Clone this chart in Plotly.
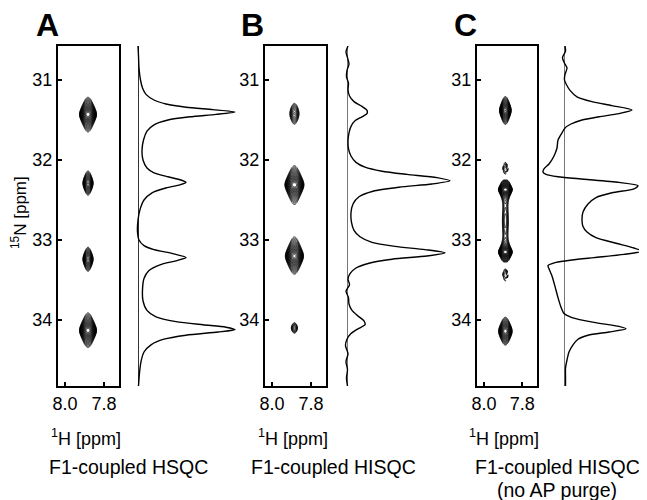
import numpy as np
import plotly.graph_objects as go

# page body has an 8px margin: the figure is shifted, so draw it 8px smaller and offset
OFF = 8
W, H = 647 - OFF, 500 - OFF
FONT = "Liberation Sans, Arial, sans-serif"

# ---------------- data ----------------
N_RANGE = [34.825, 30.575]      # 15N ppm (reversed)
H_RANGE = [8.036, 7.723]        # 1H ppm (reversed)
N_TICKS = [31, 32, 33, 34]
H_TICKS = [8.0, 7.8]
H_TICKTEXT = ["8.0", "7.8"]

# 2D cross peaks: 1H centre, 15N centre, relative height, 15N width, 1H width
A_PK_H = [7.882, 7.882, 7.882, 7.882]
A_PK_N = [31.43, 32.29, 33.24, 34.13]
A_PK_HT = [1.0, 0.5, 0.5, 1.0]
A_PK_WN = [0.07, 0.07, 0.07, 0.07]
A_PK_WH = [0.0205, 0.0145, 0.0145, 0.0205]

B_PK_H = [7.885, 7.885, 7.885, 7.885]
B_PK_N = [31.42, 32.31, 33.20, 34.10]
B_PK_HT = [0.25, 1.0, 0.95, 0.2]
B_PK_WN = [0.098, 0.075, 0.075, 0.06]
B_PK_WH = [0.017, 0.0228, 0.022, 0.013]

C_PK_H = [7.888, 7.888, 7.888, 7.888, 7.888, 7.888, 7.888]
C_PK_N = [31.38, 32.11, 32.37, 32.76, 33.15, 33.43, 34.14]
C_PK_HT = [0.8, -0.4, 1.0, 0.17, 1.0, -0.4, 0.7]
C_PK_WN = [0.064, 0.06, 0.045, 0.25, 0.045, 0.06, 0.069]
C_PK_WH = [0.015, 0.0095, 0.0168, 0.013, 0.0168, 0.0095, 0.018]

# 1D 15N traces (ppm, relative intensity)
A_TR_N = [30.575, 30.70, 30.85, 31.00, 31.10, 31.18, 31.25, 31.30, 31.34, 31.37, 31.40, 31.43,
          31.46, 31.50, 31.56, 31.64, 31.75, 31.88, 32.00, 32.10, 32.16, 32.21, 32.25, 32.28,
          32.31, 32.35, 32.41, 32.50, 32.62, 32.75, 32.90, 33.00, 33.07, 33.12, 33.17, 33.22,
          33.26, 33.31, 33.38, 33.48, 33.62, 33.76, 33.88, 33.96, 34.02, 34.06, 34.09, 34.12,
          34.15, 34.19, 34.24, 34.31, 34.40, 34.52, 34.66, 34.825]
A_TR_I = [0, 0.5, 1, 2.5, 4.5, 8, 16, 28, 48, 75, 97, 78,
          52, 30, 16, 9, 5.5, 4, 5, 9, 16, 30, 43, 48,
          42, 28, 14, 6, 2, 0, -0.5, 1, 6, 16, 35, 48,
          38, 22, 11, 6, 4.5, 5, 9, 18, 38, 65, 88, 97,
          80, 48, 26, 13, 6, 3, 1.5, 0.5]

B_TR_N = [30.575, 30.65, 30.72, 30.80, 30.88, 30.96, 31.04, 31.12, 31.20, 31.27, 31.33, 31.38,
          31.42, 31.46, 31.51, 31.58, 31.66, 31.76, 31.86, 31.95, 32.03, 32.09, 32.14, 32.18,
          32.22, 32.26, 32.30, 32.34, 32.39, 32.46, 32.55, 32.66, 32.78, 32.88, 32.96, 33.03,
          33.08, 33.12, 33.16, 33.20, 33.24, 33.29, 33.35, 33.42, 33.49, 33.56, 33.64, 33.72,
          33.80, 33.88, 33.95, 34.01, 34.06, 34.11, 34.17, 34.24, 34.32, 34.42, 34.52, 34.62,
          34.72, 34.825]
B_TR_I = [1, -1, 0.5, 2, 0, -0.5, 1.5, 1, 2.5, 7, 15, 20,
          20, 15, 8, 4, 2, 1, 1.5, 4, 9, 18, 35, 60,
          90, 103, 85, 52, 26, 12, 6, 4, 4.5, 7, 13, 25,
          48, 78, 98, 80, 45, 22, 9, 3, 1, 2.5, -1, 1.5,
          2, 5, 11, 17, 18, 11, 4, 0, -1.5, 1, -1, 0.5,
          -0.5, 0.5]

C_TR_N = [30.575, 30.64, 30.72, 30.79, 30.85, 30.93, 31.00, 31.06, 31.13, 31.21, 31.27, 31.32,
          31.375, 31.42, 31.46, 31.50, 31.55, 31.60, 31.66, 31.75, 31.85, 31.95, 32.05, 32.11,
          32.15, 32.18, 32.21, 32.24, 32.28, 32.32, 32.36, 32.41, 32.47, 32.55, 32.65, 32.75,
          32.83, 32.90, 32.97, 33.04, 33.10, 33.14, 33.18, 33.22, 33.25, 33.28, 33.32, 33.36,
          33.45, 33.58, 33.72, 33.84, 33.92, 33.97, 34.03, 34.08, 34.11, 34.15, 34.19, 34.24,
          34.31, 34.40, 34.50, 34.60, 34.70, 34.825]
C_TR_I = [1, 1.5, -1.5, 0.5, 3, 1, 0.5, 2.5, 6, 13, 28, 48,
          68, 55, 35, 18, 7, 1, -2, -6, -7, -10, -15, -20,
          -21, -18, -6, 20, 55, 74, 70, 48, 32, 24, 19, 18,
          19, 23, 32, 52, 70, 78, 60, 30, 8, -8, -16, -15,
          -12, -9, -6, -3, 0, 8, 30, 55, 62, 45, 24, 14,
          9, 5, 3, 1.5, 1.5, 1.5]

CAPTIONS_A = ["F1-coupled HSQC"]
CAPTIONS_B = ["F1-coupled HISQC"]
CAPTIONS_C = ["F1-coupled HISQC", "(no AP purge)"]

PANELS = [
    dict(letter="A", box=(58, 119), tr=(128, 240), tr_range=[-10, 102], base="#333333",
         pk=(A_PK_H, A_PK_N, A_PK_HT, A_PK_WN, A_PK_WH), trace=(A_TR_N, A_TR_I),
         caption=CAPTIONS_A, cap_x=128, let_x=34),
    dict(letter="B", box=(265, 326), tr=(337, 457), tr_range=[-10, 110], base="#777777",
         pk=(B_PK_H, B_PK_N, B_PK_HT, B_PK_WN, B_PK_WH), trace=(B_TR_N, B_TR_I),
         caption=CAPTIONS_B, cap_x=333, let_x=239),
    dict(letter="C", box=(477, 537), tr=(539, 647), tr_range=[-25, 83], base="#777777",
         pk=(C_PK_H, C_PK_N, C_PK_HT, C_PK_WN, C_PK_WH), trace=(C_TR_N, C_TR_I),
         caption=CAPTIONS_C, cap_x=557, let_x=452),
]

TOP, BOT = 46, 386


def fx(px):
    return (px - OFF) / W


def fy(py):
    return 1 - (py - OFF) / H


gx = np.linspace(H_RANGE[1], H_RANGE[0], 160)
gy = np.linspace(N_RANGE[1], N_RANGE[0], 700)
GX, GY = np.meshgrid(gx, gy)

fig = go.Figure()
annotations = []
layout = dict(width=W, height=H, margin=dict(l=0, r=0, t=0, b=0, autoexpand=False),
              paper_bgcolor="white", plot_bgcolor="white", showlegend=False,
              font=dict(family=FONT, color="black"))

for i, p in enumerate(PANELS):
    bx = 2 * i + 1
    tx = 2 * i + 2
    hs, ns, hts, wns, whs = p["pk"]
    field = np.zeros_like(GX)
    for h0, n0, ht, wn, wh in zip(hs, ns, hts, wns, whs):
        field += ht * np.exp(-((GX - h0) ** 2) / (2 * wh ** 2)) / (1 + ((GY - n0) / wn) ** 2)
    zpos = np.log10(np.clip(field, 1e-6, None))
    zneg = np.log10(np.clip(-field, 1e-6, None))
    xa = "x" if bx == 1 else f"x{bx}"
    ya = "y" if bx == 1 else f"y{bx}"
    fig.add_trace(go.Contour(x=gx, y=gy, z=zpos, xaxis=xa, yaxis=ya, showscale=False,
                             contours=dict(coloring="lines", start=-1, end=-0.01, size=0.05),
                             colorscale=[[0, "black"], [1, "black"]],
                             line=dict(width=0.8), hoverinfo="skip"))
    if np.min(field) < -0.1:
        fig.add_trace(go.Contour(x=gx, y=gy, z=zneg, xaxis=xa, yaxis=ya, showscale=False,
                                 contours=dict(coloring="lines", start=-1, end=-0.42, size=0.06),
                                 colorscale=[[0, "black"], [1, "black"]],
                                 line=dict(width=0.8, dash="dot"), hoverinfo="skip"))
    trN, trI = p["trace"]
    fig.add_trace(go.Scatter(x=trI, y=trN, xaxis=f"x{tx}", yaxis=f"y{tx}", mode="lines",
                             line=dict(color="black", width=1.4, shape="spline", smoothing=0.7),
                             hoverinfo="skip"))

    key_bx = "xaxis" if bx == 1 else f"xaxis{bx}"
    key_by = "yaxis" if bx == 1 else f"yaxis{bx}"
    layout[key_bx] = dict(domain=[fx(p["box"][0]), fx(p["box"][1])], range=H_RANGE,
                          anchor=ya, showline=True, mirror=True, linecolor="black", linewidth=2.2,
                          ticks="inside", ticklen=4, tickwidth=2, tickcolor="black",
                          tickvals=H_TICKS, ticktext=H_TICKTEXT, showgrid=False, zeroline=False,
                          tickfont=dict(size=18, family=FONT, color="black"))
    layout[key_by] = dict(domain=[fy(BOT), fy(TOP)], range=N_RANGE, anchor=xa,
                          showline=True, mirror=True, linecolor="black", linewidth=2.2,
                          ticks="inside", ticklen=4, tickwidth=2, tickcolor="black",
                          tickvals=N_TICKS, showgrid=False, zeroline=False,
                          tickfont=dict(size=18, family=FONT, color="black"))
    layout[f"xaxis{tx}"] = dict(domain=[fx(p["tr"][0]), fx(p["tr"][1])], range=p["tr_range"],
                                anchor=f"y{tx}", visible=True, showline=False, showticklabels=False,
                                ticks="", showgrid=False, zeroline=True, zerolinecolor=p["base"],
                                zerolinewidth=1)
    layout[f"yaxis{tx}"] = dict(domain=[fy(BOT), fy(TOP)], range=N_RANGE, anchor=f"x{tx}",
                                visible=False)

    annotations.append(dict(text=f"<b>{p['letter']}</b>", x=fx(p["let_x"]), y=fy(25),
                            xref="paper", yref="paper", xanchor="left", yanchor="middle",
                            showarrow=False, font=dict(size=32, family=FONT, color="black")))
    bc = (p["box"][0] + p["box"][1]) / 2
    annotations.append(dict(text="<sup>1</sup>H [ppm]", x=fx(bc - 3), y=fy(437),
                            xref="paper", yref="paper", xanchor="center", yanchor="middle",
                            showarrow=False, font=dict(size=18, family=FONT, color="black")))
    for k, line in enumerate(p["caption"]):
        annotations.append(dict(text=line, x=fx(p["cap_x"]), y=fy(467 + 23 * k),
                                xref="paper", yref="paper", xanchor="center", yanchor="middle",
                                showarrow=False, font=dict(size=19.5, family=FONT, color="black")))

annotations.append(dict(text="<sup>15</sup>N [ppm]", x=fx(19), y=fy(213), textangle=-90,
                        xref="paper", yref="paper", xanchor="center", yanchor="middle",
                        showarrow=False, font=dict(size=17, family=FONT, color="black")))

layout["annotations"] = annotations
fig.update_layout(**layout)
fig.write_html("out.html")
